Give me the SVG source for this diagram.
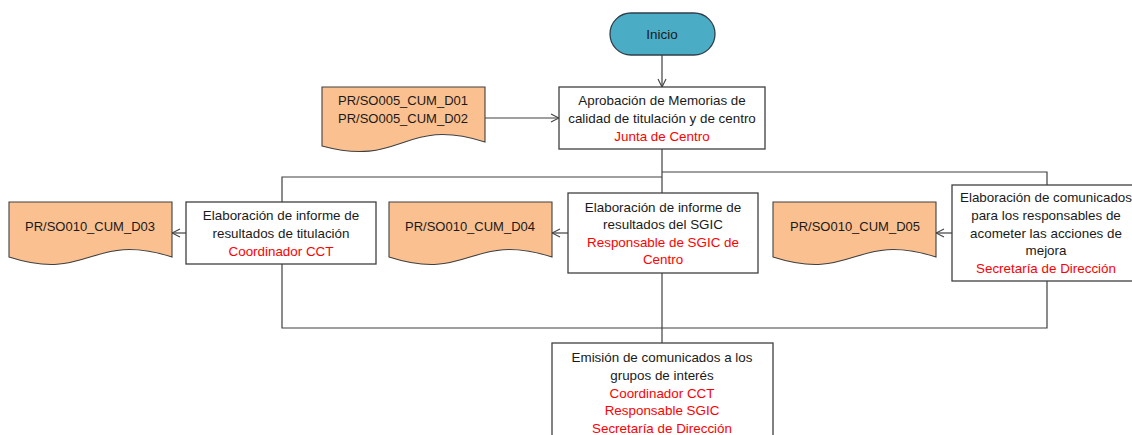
<svg xmlns="http://www.w3.org/2000/svg" width="1132" height="435" viewBox="0 0 1132 435">
<style>
.box{fill:#fff;stroke:#404040;stroke-width:1.3}
.doc{fill:#FAC090;stroke:#404040;stroke-width:1.1}
.term{fill:#4BACC6;stroke:#2f3f4a;stroke-width:1.3}
.ln{fill:none;stroke:#404040;stroke-width:1.2}
text{font-family:"Liberation Sans","Open Sans",sans-serif;font-size:13.4px;text-anchor:middle;dominant-baseline:central;fill:#1a1a1a}
.d{font-size:13px}
.r{fill:#ff0000}
</style>
<defs>
<marker id="arr" markerWidth="10" markerHeight="10" refX="9" refY="5" orient="auto" markerUnits="userSpaceOnUse">
<path d="M1,1 L9,5 L1,9" fill="none" stroke="#404040" stroke-width="1.1"/>
</marker>
</defs>
<rect width="1132" height="435" fill="#fff"/>
<g id="connectors">
<line class="ln" x1="662" y1="55" x2="662" y2="87" marker-end="url(#arr)"/>
<line class="ln" x1="485" y1="118" x2="559" y2="118" marker-end="url(#arr)"/>
<path class="ln" d="M662,149 V193"/>
<path class="ln" d="M662,177 H282 V202"/>
<path class="ln" d="M662,172 H1047 V185"/>
<path class="ln" d="M282,264 V328 H1047 V281"/>
<path class="ln" d="M662,273 V343"/>
<line class="ln" x1="186" y1="233" x2="172" y2="233" marker-end="url(#arr)"/>
<line class="ln" x1="568" y1="233" x2="552" y2="233" marker-end="url(#arr)"/>
<line class="ln" x1="952" y1="233" x2="936" y2="233" marker-end="url(#arr)"/>
</g>
<g id="inicio">
<rect class="term" x="610" y="13" width="105" height="42" rx="21" ry="21"/>
<text x="662" y="34" font-size="14">Inicio</text>
</g>
<g id="doc-d01-d02">
<path class="doc" d="M322,87 H485 V142 C403,116 403,168 322,146 Z"/>
<text class="d" x="403" y="100">PR/SO005_CUM_D01</text>
<text class="d" x="403" y="118">PR/SO005_CUM_D02</text>
</g>
<g id="aprobacion">
<rect class="box" x="559" y="87" width="206" height="62"/>
<text x="662" y="100">Aprobación de Memorias de</text>
<text x="662" y="118">calidad de titulación y de centro</text>
<text x="662" y="136" class="r">Junta de Centro</text>
</g>
<g id="doc-d03">
<path class="doc" d="M9,202 H172 V257 C90,231 90,283 9,257 Z"/>
<text class="d" x="90" y="226">PR/SO010_CUM_D03</text>
</g>
<g id="informe-titulacion">
<rect class="box" x="186" y="202" width="190" height="62"/>
<text x="281" y="215">Elaboración de informe de</text>
<text x="281" y="233">resultados de titulación</text>
<text x="281" y="251" class="r">Coordinador CCT</text>
</g>
<g id="doc-d04">
<path class="doc" d="M389,202 H552 V257 C470,231 470,283 389,257 Z"/>
<text class="d" x="470" y="226">PR/SO010_CUM_D04</text>
</g>
<g id="informe-sgic">
<rect class="box" x="568" y="193" width="190" height="80"/>
<text x="663" y="207">Elaboración de informe de</text>
<text x="663" y="224">resultados del SGIC</text>
<text x="663" y="242" class="r">Responsable de SGIC de</text>
<text x="663" y="259" class="r">Centro</text>
</g>
<g id="doc-d05">
<path class="doc" d="M773,202 H936 V257 C854,231 854,283 773,257 Z"/>
<text class="d" x="855" y="226">PR/SO010_CUM_D05</text>
</g>
<g id="comunicados-responsables">
<rect class="box" x="952" y="185" width="190" height="96"/>
<text x="1046" y="197">Elaboración de comunicados</text>
<text x="1046" y="215">para los responsables de</text>
<text x="1046" y="233">acometer las acciones de</text>
<text x="1046" y="250">mejora</text>
<text x="1046" y="268" class="r">Secretaría de Dirección</text>
</g>
<g id="emision">
<rect class="box" x="552" y="343" width="221" height="100"/>
<text x="662" y="357">Emisión de comunicados a los</text>
<text x="662" y="375">grupos de interés</text>
<text x="662" y="393" class="r">Coordinador CCT</text>
<text x="662" y="410" class="r">Responsable SGIC</text>
<text x="662" y="428" class="r">Secretaría de Dirección</text>
</g>
</svg>
